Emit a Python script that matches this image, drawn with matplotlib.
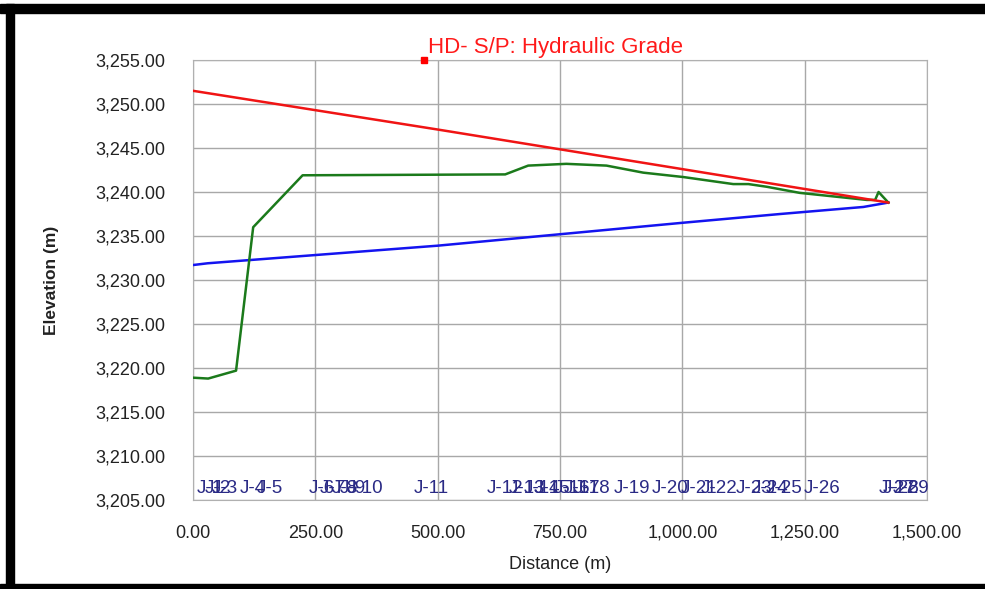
import matplotlib
matplotlib.use("Agg")
import matplotlib.pyplot as plt
from matplotlib.patches import Rectangle
from matplotlib.ticker import FuncFormatter

plt.rcParams['font.family'] = ['Liberation Sans', 'DejaVu Sans']

# hydraulic grade (red), ground elevation (green), pipe invert (blue)
hgl_x = [0, 500, 1000, 1421]
hgl_y = [3251.5, 3247.1, 3242.6, 3238.8]

ground_x = [0, 31, 88, 123, 224, 638, 685, 763, 845, 920, 1002, 1104, 1135,
            1172, 1240, 1377, 1394, 1401, 1421]
ground_y = [3218.9, 3218.8, 3219.7, 3236.0, 3241.9, 3242.0, 3243.0, 3243.2,
            3243.0, 3242.2, 3241.7, 3240.9, 3240.9, 3240.6, 3239.9, 3239.1,
            3239.1, 3240.0, 3238.8]

pipe_x = [0, 30, 500, 1000, 1200, 1370, 1421]
pipe_y = [3231.7, 3231.9, 3233.9, 3236.5, 3237.5, 3238.3, 3238.8]

node_labels = ["J-1", "J-2", "J-3", "J-4", "J-5", "J-6", "J-7", "J-8", "J-9",
               "J-10", "J-11", "J-12", "J-13", "J-14", "J-15", "J-16", "J-17",
               "J-18", "J-19", "J-20", "J-21", "J-22", "J-23", "J-24", "J-25",
               "J-26", "J-27", "J-28", "J-29"]
node_x = [0, 15, 31, 88, 123, 229, 250, 276, 292, 306, 443, 593, 638, 668,
          689, 730, 750, 770, 852, 930, 989, 1030, 1101, 1134, 1163, 1240,
          1394, 1401, 1421]

fig = plt.figure(figsize=(9.85, 5.89), dpi=100)
ax = fig.add_axes([193 / 985, 1 - 500 / 589, 734 / 985, 440 / 589])

ax.plot(pipe_x, pipe_y, color='#1414f0', lw=1.8, zorder=3)
ax.plot(ground_x, ground_y, color='#1b7a1b', lw=1.8, zorder=4)
ax.plot(hgl_x, hgl_y, color='#f01414', lw=1.8, zorder=5)

for lab, xv in zip(node_labels, node_x):
    ax.text(xv + 8, 3206.3, lab, color='#2a2a85', fontsize=13.5, ha='left',
            va='center', zorder=6)

ax.set_xlim(0, 1500)
ax.set_ylim(3205, 3255)
ax.set_xticks([0, 250, 500, 750, 1000, 1250, 1500])
ax.set_yticks(range(3205, 3256, 5))
ax.xaxis.set_major_formatter(FuncFormatter(lambda v, p: f"{v:,.2f}"))
ax.yaxis.set_major_formatter(FuncFormatter(lambda v, p: f"{v:,.2f}"))
ax.tick_params(axis='both', length=0, labelsize=13, colors='#222222')
ax.tick_params(axis='y', pad=20)
ax.tick_params(axis='x', pad=18)
ax.grid(True, color='#a8a8a8', lw=1)
for s in ax.spines.values():
    s.set_color('#b0b0b0')

ax.set_xlabel("Distance (m)", fontsize=13, color='#222222', labelpad=10)
ax.set_ylabel("Elevation (m)", fontsize=12.5, color='#222222', labelpad=26,
              fontweight='bold')

fig.text(428 / 985, 1 - 47 / 589, "HD- S/P: Hydraulic Grade", color='#ff1a1a',
         fontsize=16, ha='left', va='center')
fig.add_artist(Rectangle((421 / 985, 1 - 63 / 589), 6 / 985, 6 / 589,
                         transform=fig.transFigure, color='#ff0000'))

# black screenshot frame
fig.add_artist(Rectangle((0, 1 - 12.5 / 589), 1, 8.5 / 589,
                         transform=fig.transFigure, color='black'))
fig.add_artist(Rectangle((6 / 985, 0), 8 / 985, 1 - 4 / 589,
                         transform=fig.transFigure, color='black'))
fig.add_artist(Rectangle((0, 0), 1, 5 / 589,
                         transform=fig.transFigure, color='black'))

fig.savefig("out.png", dpi=100)
